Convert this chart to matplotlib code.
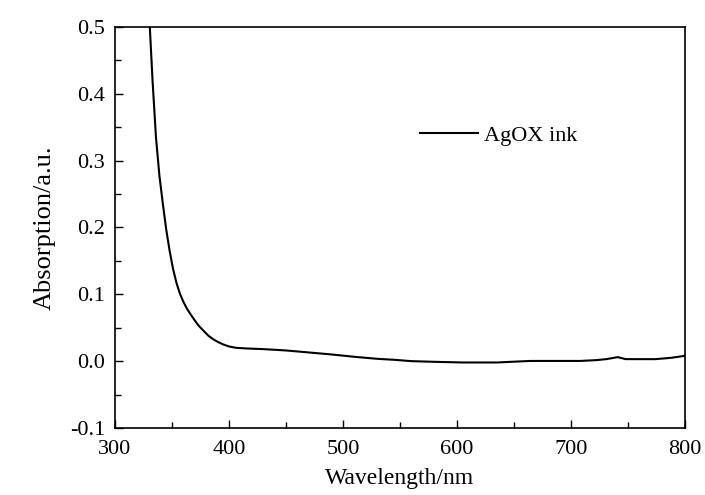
import matplotlib
matplotlib.use("Agg")
import matplotlib.pyplot as plt
from matplotlib.ticker import MultipleLocator

plt.rcParams["font.family"] = ["Liberation Serif", "DejaVu Serif"]

wavelength = [327, 330, 333, 336, 339, 342, 345, 348, 351, 354, 357, 360, 363,
              366, 370, 374, 378, 382, 386, 390, 395, 400, 406, 415, 430, 450,
              470, 490, 510, 530, 545, 560, 580, 605, 635, 664, 690, 708, 722,
              731, 741, 748, 760, 774, 788, 800]
absorption = [0.59, 0.52, 0.42, 0.335, 0.278, 0.236, 0.197, 0.165, 0.138,
              0.117, 0.101, 0.089, 0.079, 0.071, 0.061, 0.052, 0.045, 0.038,
              0.033, 0.029, 0.025, 0.022, 0.020, 0.019, 0.018, 0.016, 0.013,
              0.010, 0.0065, 0.0035, 0.002, 0.0, -0.001, -0.002, -0.002, 0.0003,
              0.0003, 0.0003, 0.0015, 0.003, 0.006, 0.003, 0.003, 0.003, 0.005,
              0.008]

fig = plt.figure(figsize=(7.05, 4.95), dpi=100)
ax = fig.add_axes([0.163, 0.1354, 0.8086, 0.8101])

ax.plot(wavelength, absorption, color="black", linewidth=1.5, label="AgOX ink")

ax.set_xlim(300, 800)
ax.set_ylim(-0.1, 0.5)
ax.xaxis.set_major_locator(MultipleLocator(100))
ax.xaxis.set_minor_locator(MultipleLocator(50))
ax.yaxis.set_major_locator(MultipleLocator(0.1))
ax.yaxis.set_minor_locator(MultipleLocator(0.05))
ax.yaxis.set_major_formatter(plt.FuncFormatter(lambda v, p: f"{v:.1f}"))

ax.tick_params(which="both", direction="in", top=False, right=False,
               labelsize=16, width=1.0)
ax.tick_params(which="major", length=6)
ax.tick_params(which="minor", length=4)
ax.tick_params(axis="x", which="major", pad=9)
ax.tick_params(axis="y", which="major", pad=7)
for s in ax.spines.values():
    s.set_linewidth(1.2)

ax.set_xlabel("Wavelength/nm", fontsize=17, labelpad=6)
ax.set_ylabel("Absorption/a.u.", fontsize=19, labelpad=10)

ax.legend(loc="upper left", bbox_to_anchor=(0.50, 0.805), frameon=False,
          fontsize=16, handlelength=2.6, handletextpad=0.3)

fig.savefig("out.png", dpi=100)
